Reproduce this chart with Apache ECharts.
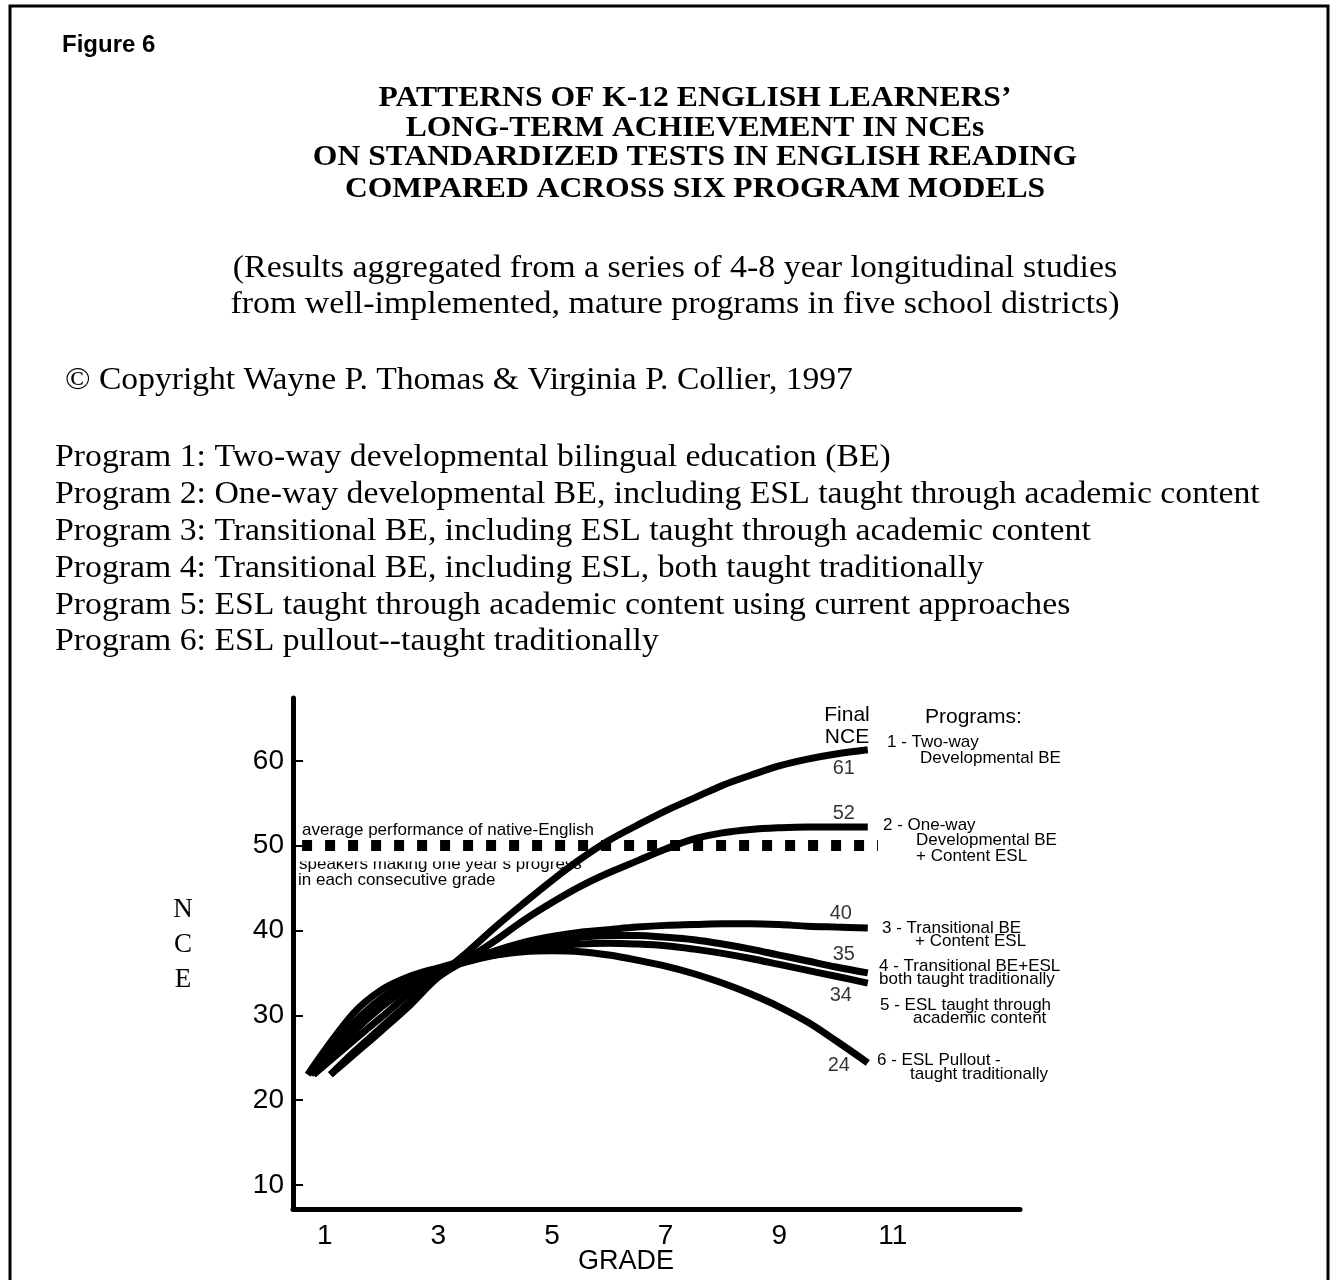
<!DOCTYPE html>
<html><head><meta charset="utf-8">
<script src="https://cdn.jsdelivr.net/npm/echarts@6/dist/echarts.min.js"></script>
<style>html,body{margin:0;padding:0;background:#fff}#c{width:1337px;height:1280px}</style>
</head><body><div id="c"></div><script>
// ---- data ----
const GRADE_TICKS = [1, 3, 5, 7, 9, 11];
const NCE_TICKS = [10, 20, 30, 40, 50, 60];
const GRADES = [1.5, 2, 2.5, 3, 3.5, 4, 4.5, 5, 5.5, 6, 6.5, 7, 7.5, 8, 8.5, 9, 9.5, 10, 10.56];
const START_GRADE = [1.1, 1.1, 0.8, 0.8, 0.75, 0.7];
const START_NCE = [23, 23, 23, 23, 23, 23];
const PROGRAM_1 = [25.6, 28.6, 31.6, 34.6, 37.4, 40.4, 43.2, 45.9, 48.4, 50.6, 52.4, 54.1, 55.6, 57.1, 58.3, 59.4, 60.2, 60.8, 61.3];
const PROGRAM_2 = [25.3, 28.2, 31.2, 34.5, 36.6, 38.8, 41.2, 43.3, 45.2, 46.8, 48.2, 49.6, 50.8, 51.5, 51.9, 52.1, 52.2, 52.2, 52.2];
const PROGRAM_3 = [27.0, 29.8, 32.6, 35.0, 36.5, 37.6, 38.6, 39.3, 39.8, 40.1, 40.4, 40.6, 40.7, 40.8, 40.8, 40.7, 40.5, 40.4, 40.3];
const PROGRAM_4 = [28.0, 31.0, 33.4, 35.2, 36.5, 37.5, 38.3, 38.8, 39.2, 39.4, 39.4, 39.2, 38.9, 38.4, 37.8, 37.1, 36.4, 35.7, 35.0];
const PROGRAM_5 = [29.0, 32.0, 34.0, 35.3, 36.3, 37.1, 37.7, 38.1, 38.4, 38.5, 38.4, 38.2, 37.8, 37.3, 36.7, 36.0, 35.3, 34.6, 33.8];
const PROGRAM_6 = [30.2, 33.0, 34.6, 35.6, 36.5, 37.1, 37.5, 37.6, 37.5, 37.1, 36.5, 35.8, 34.9, 33.8, 32.5, 31.0, 29.2, 27.0, 24.4];
const FINAL_NCE = [61, 52, 40, 35, 34, 24];
const NATIVE_NCE = 50;
const NATIVE_SPAN = [0.6, 10.74];
const PROGRAM_NAMES = [
  'Program 1: Two-way developmental bilingual education (BE)',
  'Program 2: One-way developmental BE, including ESL taught through academic content',
  'Program 3: Transitional BE, including ESL taught through academic content',
  'Program 4: Transitional BE, including ESL, both taught traditionally',
  'Program 5: ESL taught through academic content using current approaches',
  'Program 6: ESL pullout--taught traditionally'
];
const TITLE_LINES = [
  'PATTERNS OF K-12 ENGLISH LEARNERS\u2019',
  'LONG-TERM ACHIEVEMENT IN NCEs',
  'ON STANDARDIZED TESTS IN ENGLISH READING',
  'COMPARED ACROSS SIX PROGRAM MODELS'
];
const SUBTITLE_LINES = [
  '(Results aggregated from a series of 4-8 year longitudinal studies',
  'from well-implemented, mature programs in five school districts)'
];
const COPYRIGHT = '\u00A9 Copyright Wayne P. Thomas & Virginia P. Collier, 1997';
const KEY_LINES = [
  ['1 - Two-way', '       Developmental BE'],
  ['2 - One-way', '       Developmental BE', '       + Content ESL'],
  ['3 - Transitional BE', '       + Content ESL'],
  ['4 - Transitional BE+ESL', 'both taught traditionally'],
  ['5 - ESL taught through', '       academic content'],
  ['6 - ESL Pullout -', '       taught traditionally']
];

// ---- chart ----
const SERIF = '"Liberation Serif","Times New Roman",serif';
const SANS = '"Liberation Sans",Arial,Helvetica,sans-serif';
const PROGRAMS = [PROGRAM_1, PROGRAM_2, PROGRAM_3, PROGRAM_4, PROGRAM_5, PROGRAM_6];
const chart = echarts.init(document.getElementById('c'), null, {renderer: 'canvas'});

function txt(x, y, text, font, size, opts) {
  opts = opts || {};
  return {
    type: 'text', x: x, y: y, z: opts.z || 1, silent: true,
    scaleX: opts.sx || 1,
    style: {
      text: text, fill: '#000', font: (opts.bold ? 'bold ' : '') + size + 'px ' + font,
      textAlign: opts.align || 'left', textVerticalAlign: 'middle'
    }
  };
}

const graphics = [];
graphics.push({type: 'rect', silent: true, shape: {x: 10, y: 6, width: 1318, height: 1400},
  style: {fill: 'none', stroke: '#000', lineWidth: 3}});
graphics.push(txt(62, 45, 'Figure 6', SANS, 24, {bold: true}));
const titleY = [99, 129, 158, 190];
TITLE_LINES.forEach((t, i) => graphics.push(txt(695, titleY[i], t, SERIF, 29, {bold: true, align: 'center', sx: 1.09})));
const subY = [269, 305];
SUBTITLE_LINES.forEach((t, i) => graphics.push(txt(675, subY[i], t, SERIF, 32, {align: 'center', sx: 1.06})));
graphics.push(txt(65, 381, COPYRIGHT, SERIF, 32, {sx: 1.05}));
PROGRAM_NAMES.forEach((t, i) => graphics.push(txt(55, 458 + i * 36.8, t, SERIF, 32, {sx: 1.055})));

// axis titles
graphics.push({type: 'text', x: 183, y: 945, silent: true,
  style: {text: 'N\nC\nE', fill: '#000', font: '27px ' + SERIF, textAlign: 'center', textVerticalAlign: 'middle', lineHeight: 35}});
graphics.push(txt(626, 1262, 'GRADE', SANS, 27, {align: 'center'}));

// native-English annotation
graphics.push(txt(302, 830, 'average performance of native-English', SANS, 17));
graphics.push(txt(299, 864, 'speakers making one year\u2019s progress', SANS, 17));
graphics.push({type: 'rect', silent: true, z: 1, shape: {x: 297, y: 852, width: 282, height: 9.5}, style: {fill: '#fff'}});
graphics.push(txt(298, 880, 'in each consecutive grade', SANS, 17));

// right side key
graphics.push(txt(847, 715, 'Final', SANS, 21, {align: 'center'}));
graphics.push(txt(847, 737, 'NCE', SANS, 21, {align: 'center'}));
graphics.push(txt(925, 717, 'Programs:', SANS, 21));
const keyPos = [[887, 742], [883, 825], [882, 928], [879, 966], [880, 1005], [877, 1060]];
const keyGap = [16, 15.5, 13, 13, 13, 14];
KEY_LINES.forEach((lines, i) => {
  lines.forEach((l, j) => graphics.push(txt(keyPos[i][0], keyPos[i][1] + j * keyGap[i], l, SANS, 17)));
});

const labelDy = [19, -13, -14, -18, 12, 3];
const labelDx = [-24, -24, -27, -24, -27, -29];

const series = PROGRAMS.map((vals, i) => ({
  type: 'line', name: 'Program ' + (i + 1),
  data: [[START_GRADE[i], START_NCE[i]]].concat(GRADES.map((g, j) => [g, vals[j]])),
  smooth: 0.35, symbol: 'none', z: 3,
  lineStyle: {color: '#000', width: 7, cap: 'butt'}
}));
series.push({
  type: 'line', name: 'Native English average',
  data: NATIVE_SPAN.map(g => [g, NATIVE_NCE]),
  symbol: 'none', z: 2,
  lineStyle: {color: '#000', width: 11, type: [10, 13], cap: 'butt'}
});
series.push({
  type: 'scatter', name: 'Final NCE', symbolSize: 1, itemStyle: {color: 'rgba(0,0,0,0)'}, z: 4,
  data: PROGRAMS.map((vals, i) => ({
    value: [GRADES[GRADES.length - 1], vals[vals.length - 1]],
    label: {offset: [labelDx[i], labelDy[i]]}
  })),
  label: {show: true, position: 'inside', formatter: p => String(FINAL_NCE[p.dataIndex]),
    color: '#000', fontSize: 20, fontFamily: SANS}
});

chart.setOption({
  animation: false,
  backgroundColor: '#fff',
  grid: {left: 293, right: 317, top: 698, bottom: 71, containLabel: false},
  xAxis: {
    type: 'value', min: 0.44, max: 13.24,
    axisLine: {show: true, onZero: false, lineStyle: {color: '#000', width: 5}},
    axisTick: {show: false},
    splitLine: {show: false},
    axisLabel: {customValues: GRADE_TICKS, color: '#000', fontSize: 28, fontFamily: SANS, margin: 13}
  },
  yAxis: {
    type: 'value', min: 7.17, max: 67.4,
    axisLine: {show: true, onZero: false, lineStyle: {color: '#000', width: 5}},
    axisTick: {show: true, inside: true, length: 10, customValues: NCE_TICKS, lineStyle: {color: '#000', width: 2}},
    splitLine: {show: false},
    axisLabel: {customValues: NCE_TICKS, color: '#000', fontSize: 28, fontFamily: SANS, margin: 9}
  },
  series: series,
  graphic: graphics
});
</script></body></html>
